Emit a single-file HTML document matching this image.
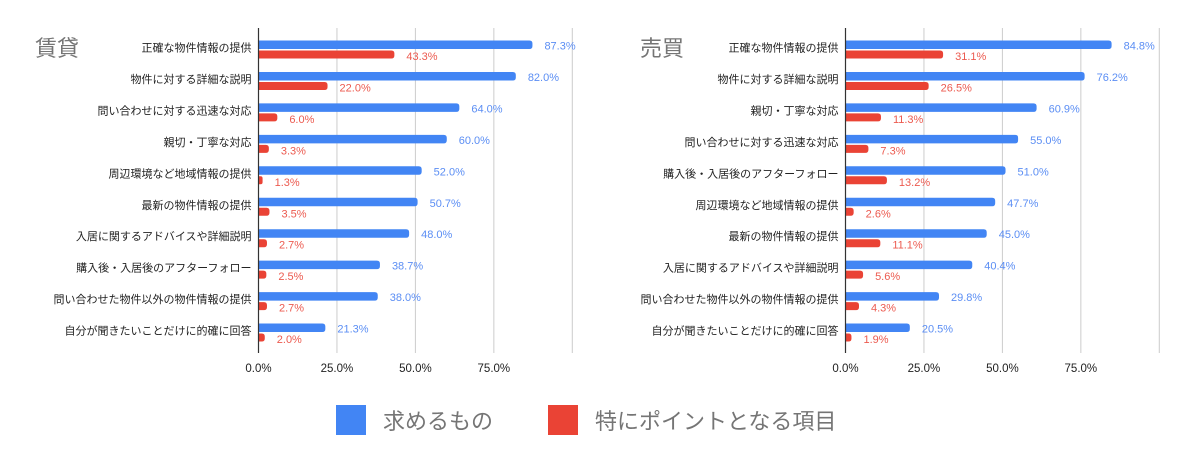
<!DOCTYPE html>
<html><head><meta charset="utf-8"><style>
body{margin:0;background:#fff;width:1194px;height:461px;overflow:hidden;font-family:"Liberation Sans","Noto Sans CJK JP",sans-serif}
svg text{font-family:"Liberation Sans","Noto Sans CJK JP",sans-serif}
</style></head><body>
<svg id="svg" width="1194" height="461"></svg>
<script>
const rentCats=["正確な物件情報の提供","物件に対する詳細な説明","問い合わせに対する迅速な対応","親切・丁寧な対応","周辺環境など地域情報の提供","最新の物件情報の提供","入居に関するアドバイスや詳細説明","購入後・入居後のアフターフォロー","問い合わせた物件以外の物件情報の提供","自分が聞きたいことだけに的確に回答"];
const rentWant=[87.3,82.0,64.0,60.0,52.0,50.7,48.0,38.7,38.0,21.3];
const rentPoint=[43.3,22.0,6.0,3.3,1.3,3.5,2.7,2.5,2.7,2.0];
const buyCats=["正確な物件情報の提供","物件に対する詳細な説明","親切・丁寧な対応","問い合わせに対する迅速な対応","購入後・入居後のアフターフォロー","周辺環境など地域情報の提供","最新の物件情報の提供","入居に関するアドバイスや詳細説明","問い合わせた物件以外の物件情報の提供","自分が聞きたいことだけに的確に回答"];
const buyWant=[84.8,76.2,60.9,55.0,51.0,47.7,45.0,40.4,29.8,20.5];
const buyPoint=[31.1,26.5,11.3,7.3,13.2,2.6,11.1,5.6,4.3,1.9];
const ticks=[0,25,50,75,100];
const tickLabels=["0.0%","25.0%","50.0%","75.0%",""];
const svg=document.getElementById('svg');
const NS="http://www.w3.org/2000/svg";
function mk(t,a,txt){const e=document.createElementNS(NS,t);for(const k in a)e.setAttribute(k,a[k]);if(txt!==undefined)e.textContent=txt;svg.appendChild(e);return e;}
function bar(x,y,w,h,c){const r=Math.min(3,w/2);const d=`M${x},${y}H${x+w-r}Q${x+w},${y} ${x+w},${y+r}V${y+h-r}Q${x+w},${y+h} ${x+w-r},${y+h}H${x}Z`;return mk('path',{d:d,fill:c});}
function chart(name,x0,title,titleX,cats,want,point){
  const W=313.8;const sx=v=>x0+v/100*W;const sy=i=>40.5+i*31.45;
  let t=mk('text',{x:titleX,y:56,'font-size':22,fill:'#757575'},title);
  
  ticks.forEach((v,i)=>{
    let g=mk('line',{x1:sx(v),x2:sx(v),y1:28,y2:353,stroke:'#ccc','stroke-width':1});
    
    let l=mk('text',{x:sx(v),y:372,'font-size':11.5,fill:'#222','text-anchor':'middle'},tickLabels[i]);
    
  });
  cats.forEach((c,i)=>{
    const y=sy(i);
    let l=mk('text',{x:x0-7,y:y+11,'font-size':11,fill:'#222','text-anchor':'end'},c);
    
    let b=bar(x0,y,sx(want[i])-x0,8.5,'#4285f4');
    
    let vt=mk('text',{x:sx(want[i])+12,y:y+9,'font-size':11,fill:'#5b8ef4'},want[i].toFixed(1)+'%');
    
    let r=bar(x0,y+10,sx(point[i])-x0,8,'#ea4335');
    
    let pt=mk('text',{x:sx(point[i])+12,y:y+19.5,'font-size':11,fill:'#ec5a4f'},point[i].toFixed(1)+'%');
    
  });
  let a=mk('line',{x1:x0,x2:x0,y1:28,y2:353,stroke:'#333','stroke-width':1.2});
  
}
chart('rent-chart',258.5,'賃貸',35,rentCats,rentWant,rentPoint);
chart('buy-chart',845.5,'売買',640,buyCats,buyWant,buyPoint);
let s1=mk('rect',{x:336,y:405,width:30,height:30,fill:'#4285f4'});

let t1=mk('text',{x:383,y:429,'font-size':22,fill:'#757575'},'求めるもの');

let s2=mk('rect',{x:548,y:405,width:30,height:30,fill:'#ea4335'});

let t2=mk('text',{x:595,y:429,'font-size':22,fill:'#757575'},'特にポイントとなる項目');

</script>
</body></html>
